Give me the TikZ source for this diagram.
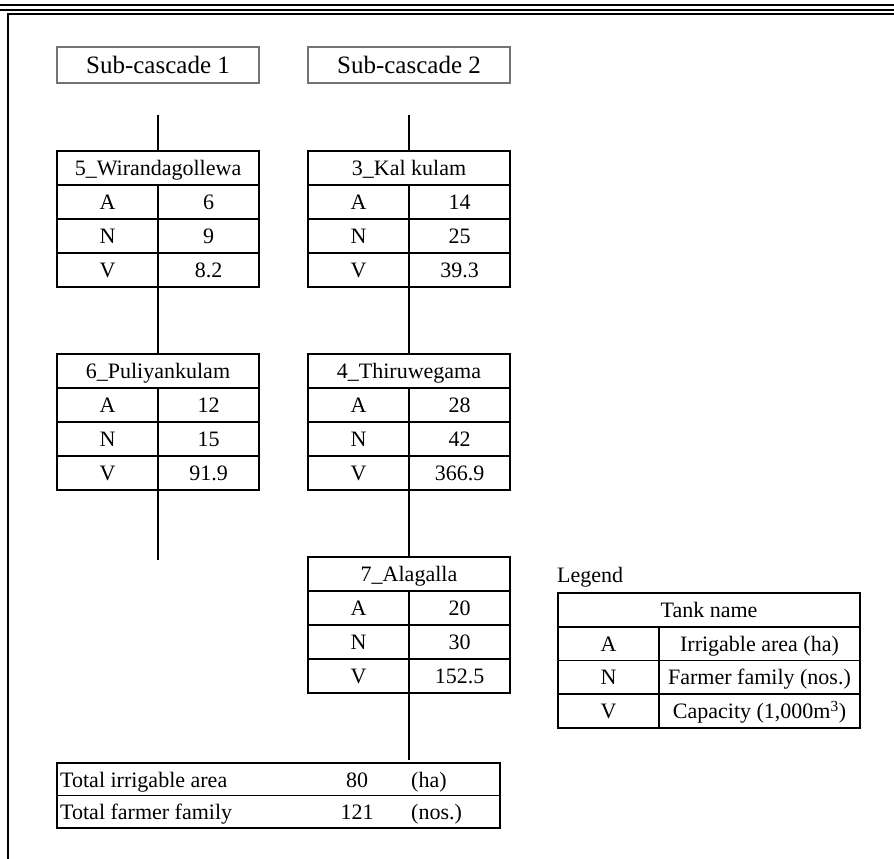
\documentclass[tikz,border=0pt]{standalone}
\usepackage{fontspec}
\setmainfont{Liberation Serif}
\usetikzlibrary{positioning}

\tikzset{
  cell/.style={draw, line width=1.6pt, outer sep=0pt, inner sep=0pt, minimum height=34pt, text height=15pt, text depth=0pt, anchor=north west},
  head/.style={cell, minimum width=202pt},
  key/.style={cell, minimum width=101pt},
  val/.style={cell, minimum width=101pt},
  txt/.style={inner sep=0pt},
  link/.style={line width=1.6pt},
  cascade/.style={draw=black!55, line width=2.2pt, outer sep=0pt, inner sep=0pt, minimum width=202pt, minimum height=36pt, text height=17pt, text depth=0pt, anchor=north west, font=\fontsize{25}{30}\selectfont},
}

\begin{document}
\begin{tikzpicture}[x=1pt, y=-1pt, font=\fontsize{22}{26}\selectfont]
    \useasboundingbox (0,0) rectangle (894,859);

    % Page rules and frame
    \draw [line width=2pt] (0,5) -- (894,5);
    \draw [line width=2pt] (0,10.5) -- (894,10.5);
    \draw [line width=1.6pt] (8,859) -- (8,14) -- (894,14);

    % Sub-cascades
    \node [cascade] (sc1) at (57,47) {Sub-cascade 1};
    \node [cascade] (sc2) at (308,47) {Sub-cascade 2};

    % Tanks
    \foreach \id/\x/\y/\tname/\va/\vn/\vv in {
        t5/57/151/5\_Wirandagollewa/6/9/8.2,
        t6/57/354/6\_Puliyankulam/12/15/91.9,
        t3/308/151/3\_Kal kulam/14/25/39.3,
        t4/308/354/4\_Thiruwegama/28/42/366.9,
        t7/308/557/7\_Alagalla/20/30/152.5}
    {
        \node [head] (\id) at (\x,\y) {\tname};
        \node [key] (\id-A) at (\id.south west) {A};
        \node [val] (\id-a) at (\id-A.north east) {\va};
        \node [key] (\id-N) at (\id-A.south west) {N};
        \node [val] (\id-n) at (\id-N.north east) {\vn};
        \node [key] (\id-V) at (\id-N.south west) {V};
        \node [val] (\id-v) at (\id-V.north east) {\vv};
    }

    % Flow lines
    \coordinate (top1) at (158,115);
    \coordinate (top2) at (409,115);
    \coordinate (end1) at (158,560);
    \coordinate (end2) at (409,760);
    \draw [link] (top1) -- (t5.north);
    \draw [link] (t5-V.south east) -- (t6.north);
    \draw [link] (t6-V.south east) -- (end1);
    \draw [link] (top2) -- (t3.north);
    \draw [link] (t3-V.south east) -- (t4.north);
    \draw [link] (t4-V.south east) -- (t7.north);
    \draw [link] (t7-V.south east) -- (end2);

    % Legend
    \node [txt, anchor=base west] (legend) at (557,582) {Legend};
    \node [cell, minimum width=302pt, minimum height=33.75pt] (lg) at (558,593) {Tank name};
    \node [key, minimum height=33.75pt] (lg-A) at (lg.south west) {A};
    \node [cell, minimum width=201pt, minimum height=33.75pt] (lg-a) at (lg-A.north east) {Irrigable area (ha)};
    \node [key, minimum height=33.75pt] (lg-N) at (lg-A.south west) {N};
    \node [cell, minimum width=201pt, minimum height=33.75pt] (lg-n) at (lg-N.north east) {Farmer family (nos.)};
    \node [key, minimum height=33.75pt] (lg-V) at (lg-N.south west) {V};
    \node [cell, minimum width=201pt, minimum height=33.75pt] (lg-v) at (lg-V.north east) {Capacity (1,000m\textsuperscript{3})};

    % Totals
    \node [cell, minimum width=443pt, minimum height=32.5pt] (tot1) at (57,763) {};
    \node [cell, minimum width=443pt, minimum height=32.5pt] (tot2) at (tot1.south west) {};
    \node [txt, anchor=base west] (tot1-label) at (60,787) {Total irrigable area};
    \node [txt, anchor=base] (tot1-val) at (357,787) {80};
    \node [txt, anchor=base west] (tot1-unit) at (411,787) {(ha)};
    \node [txt, anchor=base west] (tot2-label) at (60,819) {Total farmer family};
    \node [txt, anchor=base] (tot2-val) at (357,819) {121};
    \node [txt, anchor=base west] (tot2-unit) at (411,819) {(nos.)};
\end{tikzpicture}
\end{document}
